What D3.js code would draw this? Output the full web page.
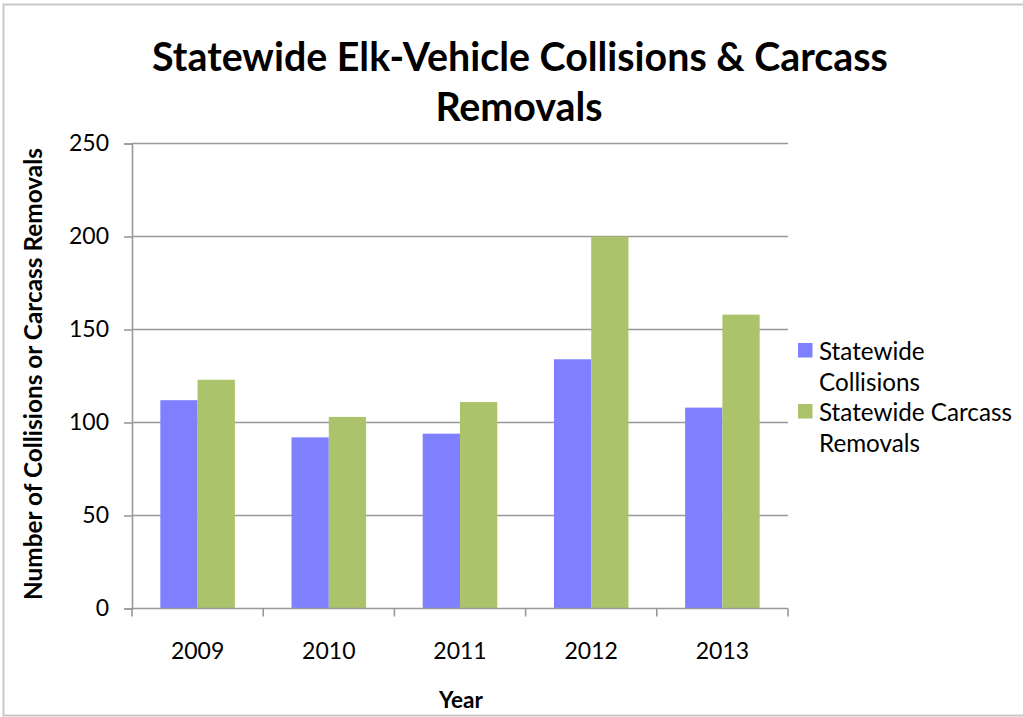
<!DOCTYPE html>
<html>
<head>
<meta charset="utf-8">
<script src="https://cdn.jsdelivr.net/npm/d3@7/dist/d3.min.js"></script>
<style>
  html, body { margin: 0; padding: 0; background: #fff; }
  svg { display: block; }
  text { font-family: Lato, "Open Sans", sans-serif; fill: #000; }
</style>
</head>
<body>
<svg id="chart" width="1023" height="717"></svg>
<script>
// Elk-vehicle collisions and carcass removals by year
const years = ["2009", "2010", "2011", "2012", "2013"];
const collisions = [112, 92, 94, 134, 108];
const carcassRemovals = [123, 103, 111, 200, 158];
const seriesNames = ["Statewide Collisions", "Statewide Carcass Removals"];
const yTicks = [0, 50, 100, 150, 200, 250];

const colors = ["#7f80ff", "#abc46c"];
const series = [collisions, carcassRemovals];

const svg = d3.select("#chart");
const W = 1023, H = 717;
const plot = { left: 132, right: 788, top: 143.5, bottom: 608.5 };

// chart frame
svg.append("rect")
  .attr("x", 3.5).attr("y", 4.5)
  .attr("width", W + 10).attr("height", 711)
  .attr("fill", "none").attr("stroke", "#c8c8c8").attr("stroke-width", 2);

const x = d3.scaleBand().domain(years).range([plot.left, plot.right]).paddingInner(0).paddingOuter(0);
const inner = d3.scaleBand().domain([0, 1]).range([0, x.bandwidth()]).paddingOuter(0.76).paddingInner(0);
const y = d3.scaleLinear().domain([0, 250]).range([plot.bottom, plot.top]);

// horizontal gridlines
svg.append("g")
  .selectAll("line")
  .data(yTicks.filter(t => t > 0))
  .join("line")
  .attr("x1", plot.left).attr("x2", plot.right)
  .attr("y1", d => y(d)).attr("y2", d => y(d))
  .attr("stroke", "#999").attr("stroke-width", 1.6);

// bars
years.forEach((yr, i) => {
  svg.append("g")
    .selectAll("rect")
    .data(series.map((s, k) => ({ k, v: s[i] })))
    .join("rect")
    .attr("x", d => x(yr) + inner(d.k))
    .attr("width", inner.bandwidth())
    .attr("y", d => y(d.v))
    .attr("height", d => y(0) - y(d.v))
    .attr("fill", d => colors[d.k]);
});

// y axis
const yAxis = svg.append("g")
  .attr("transform", `translate(${plot.left},0)`)
  .call(d3.axisLeft(y).tickValues(yTicks).tickSize(8).tickPadding(15));
yAxis.select(".domain").attr("stroke", "#999").attr("stroke-width", 1.6);
yAxis.selectAll(".tick line").attr("stroke", "#999").attr("stroke-width", 1.6);
yAxis.selectAll(".tick text").attr("font-size", 23).attr("font-family", "Lato, sans-serif").attr("fill", "#000");

// x axis
const xAxis = svg.append("g")
  .attr("transform", `translate(0,${plot.bottom})`)
  .call(d3.axisBottom(x).tickSize(0).tickPadding(34));
xAxis.select(".domain").attr("stroke", "#999").attr("stroke-width", 1.6)
  .attr("d", `M${plot.left},0H${plot.right}`);
xAxis.selectAll(".tick text").attr("font-size", 23).attr("font-family", "Lato, sans-serif").attr("fill", "#000");
// category separators
svg.append("g")
  .selectAll("line")
  .data(years.map(d => x(d)).concat([plot.right]))
  .join("line")
  .attr("x1", d => d).attr("x2", d => d)
  .attr("y1", plot.bottom).attr("y2", plot.bottom + 8)
  .attr("stroke", "#999").attr("stroke-width", 1.6);

// scale a label's font so it spans the given width
function fitText(sel, targetWidth) {
  const node = sel.node();
  const fs = parseFloat(sel.attr("font-size"));
  const w = node.getComputedTextLength();
  sel.attr("font-size", fs * targetWidth / w);
}

// title
const t1 = svg.append("text").attr("x", 520).attr("y", 71).attr("text-anchor", "middle")
  .attr("font-weight", "bold").attr("font-size", 36).text("Statewide Elk-Vehicle Collisions & Carcass");
fitText(t1, 736);
svg.append("text").attr("x", 519).attr("y", 121).attr("text-anchor", "middle")
  .attr("font-weight", "bold").attr("font-size", t1.attr("font-size")).text("Removals");

// axis titles
const yt = svg.append("text")
  .attr("transform", "translate(42,374) rotate(-90)")
  .attr("text-anchor", "middle").attr("font-weight", "bold").attr("font-size", 18)
  .text("Number of Collisions or Carcass Removals");
fitText(yt, 452);
const xt = svg.append("text").attr("x", 461).attr("y", 708).attr("text-anchor", "middle")
  .attr("font-weight", "bold").attr("font-size", 20).text("Year");
fitText(xt, 44);

// legend
const legendLines = [["Statewide", "Collisions"], ["Statewide Carcass", "Removals"]];
const probe = svg.append("text").attr("font-size", 20).text(legendLines[1][0]);
fitText(probe, 193);
const legendSize = probe.attr("font-size");
probe.remove();
const leg = svg.append("g");
legendLines.forEach((lines, i) => {
  const top = 343 + i * 61;
  leg.append("rect").attr("x", 798).attr("y", top).attr("width", 14.5).attr("height", 14.5).attr("fill", colors[i]);
  lines.forEach((ln, j) => {
    leg.append("text").attr("x", 819).attr("y", top + 17 + j * 30.5)
      .attr("font-size", legendSize).text(ln);
  });
});
</script>
</body>
</html>
